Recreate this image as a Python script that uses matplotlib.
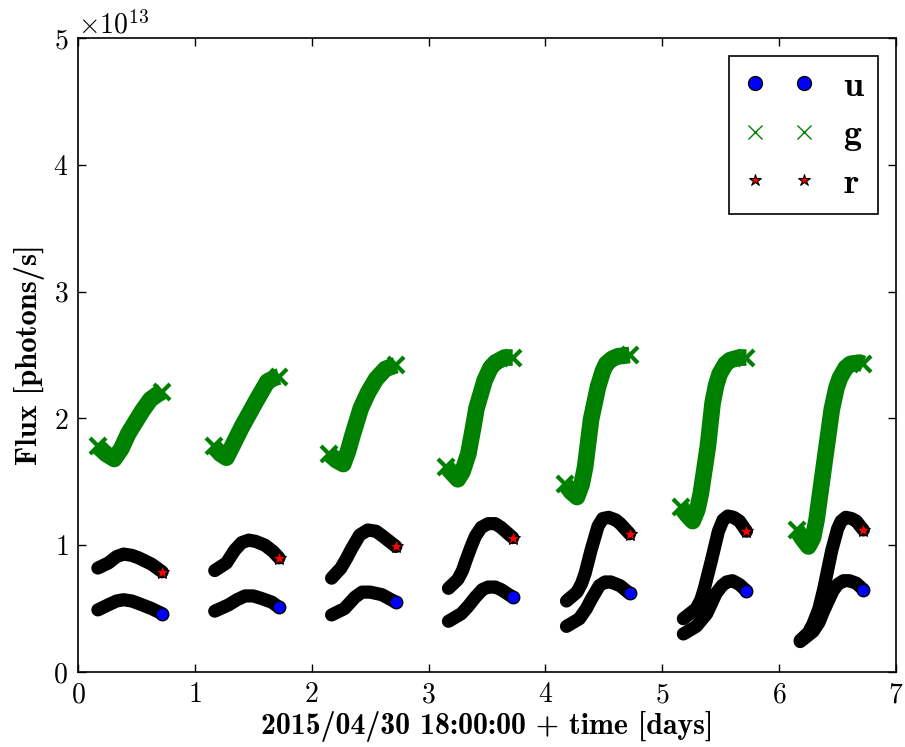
import matplotlib
matplotlib.use('Agg')
import matplotlib.pyplot as plt
import numpy as np

plt.rcParams['font.family'] = 'cmr10'
plt.rcParams['mathtext.fontset'] = 'cm'
plt.rcParams['axes.formatter.use_mathtext'] = True
plt.rcParams['axes.unicode_minus'] = False

# flux in units of 1e13 photons/s, one list per night
u_t = [[0.17, 0.26, 0.33, 0.39, 0.46, 0.52, 0.63, 0.72],
       [1.17, 1.29, 1.36, 1.43, 1.50, 1.57, 1.66, 1.72],
       [2.17, 2.28, 2.33, 2.37, 2.43, 2.50, 2.60, 2.72],
       [3.17, 3.28, 3.34, 3.40, 3.46, 3.51, 3.57, 3.62, 3.72],
       [4.18, 4.29, 4.35, 4.39, 4.46, 4.51, 4.56, 4.64, 4.72],
       [5.18, 5.29, 5.38, 5.42, 5.46, 5.51, 5.55, 5.60, 5.66, 5.72],
       [6.18, 6.29, 6.34, 6.38, 6.46, 6.50, 6.55, 6.60, 6.66, 6.72]]
u_f = [[0.49, 0.53, 0.56, 0.57, 0.56, 0.54, 0.50, 0.46],
       [0.48, 0.53, 0.57, 0.60, 0.60, 0.58, 0.55, 0.51],
       [0.45, 0.50, 0.55, 0.59, 0.63, 0.63, 0.61, 0.55],
       [0.40, 0.46, 0.52, 0.59, 0.65, 0.67, 0.67, 0.65, 0.59],
       [0.36, 0.42, 0.50, 0.57, 0.68, 0.71, 0.71, 0.68, 0.62],
       [0.30, 0.36, 0.46, 0.54, 0.62, 0.68, 0.71, 0.72, 0.69, 0.64],
       [0.24, 0.32, 0.39, 0.48, 0.64, 0.69, 0.72, 0.72, 0.70, 0.65]]

g_t = [[0.17, 0.24, 0.31, 0.37, 0.43, 0.55, 0.62, 0.68, 0.72],
       [1.16, 1.22, 1.27, 1.33, 1.40, 1.52, 1.62, 1.68, 1.72],
       [2.15, 2.21, 2.27, 2.31, 2.35, 2.42, 2.48, 2.55, 2.63, 2.72],
       [3.15, 3.21, 3.25, 3.29, 3.34, 3.38, 3.41, 3.48, 3.53, 3.57, 3.65, 3.72],
       [4.17, 4.22, 4.27, 4.31, 4.34, 4.39, 4.45, 4.49, 4.52, 4.57, 4.62, 4.72],
       [5.16, 5.21, 5.26, 5.30, 5.33, 5.39, 5.43, 5.46, 5.49, 5.54, 5.58, 5.66, 5.72],
       [6.15, 6.20, 6.25, 6.29, 6.32, 6.39, 6.45, 6.49, 6.52, 6.57, 6.61, 6.69, 6.72]]
g_f = [[1.78, 1.72, 1.68, 1.76, 1.88, 2.06, 2.15, 2.19, 2.21],
       [1.78, 1.72, 1.69, 1.80, 1.93, 2.13, 2.29, 2.32, 2.33],
       [1.72, 1.67, 1.64, 1.74, 1.87, 2.08, 2.20, 2.31, 2.39, 2.42],
       [1.62, 1.56, 1.52, 1.58, 1.72, 1.92, 2.08, 2.30, 2.40, 2.44, 2.48, 2.48],
       [1.48, 1.42, 1.38, 1.48, 1.62, 1.99, 2.25, 2.37, 2.43, 2.47, 2.49, 2.50],
       [1.30, 1.24, 1.19, 1.28, 1.41, 1.78, 2.12, 2.26, 2.35, 2.43, 2.46, 2.48, 2.48],
       [1.12, 1.05, 0.99, 1.06, 1.20, 1.67, 2.07, 2.24, 2.32, 2.40, 2.43, 2.44, 2.43]]

r_t = [[0.17, 0.26, 0.33, 0.39, 0.46, 0.52, 0.63, 0.72],
       [1.17, 1.27, 1.34, 1.40, 1.46, 1.52, 1.60, 1.67, 1.72],
       [2.17, 2.25, 2.30, 2.34, 2.41, 2.48, 2.55, 2.61, 2.72],
       [3.17, 3.25, 3.29, 3.32, 3.36, 3.40, 3.45, 3.51, 3.57, 3.62, 3.72],
       [4.18, 4.27, 4.31, 4.34, 4.39, 4.45, 4.49, 4.54, 4.60, 4.64, 4.72],
       [5.18, 5.29, 5.33, 5.36, 5.42, 5.48, 5.52, 5.56, 5.61, 5.66, 5.72],
       [6.18, 6.25, 6.29, 6.34, 6.38, 6.45, 6.50, 6.53, 6.57, 6.62, 6.66, 6.72]]
r_f = [[0.82, 0.86, 0.91, 0.93, 0.92, 0.90, 0.85, 0.79],
       [0.80, 0.86, 0.96, 1.02, 1.04, 1.03, 1.00, 0.95, 0.90],
       [0.74, 0.82, 0.90, 0.97, 1.08, 1.12, 1.11, 1.07, 0.99],
       [0.66, 0.73, 0.80, 0.88, 0.98, 1.07, 1.14, 1.17, 1.17, 1.14, 1.06],
       [0.56, 0.63, 0.70, 0.78, 0.96, 1.15, 1.21, 1.22, 1.20, 1.17, 1.09],
       [0.42, 0.50, 0.57, 0.66, 0.88, 1.11, 1.20, 1.23, 1.22, 1.19, 1.11],
       [0.25, 0.31, 0.38, 0.50, 0.65, 0.96, 1.13, 1.19, 1.22, 1.21, 1.19, 1.12]]

bands = ['u', 'g', 'r']

fig = plt.figure(figsize=(9.05, 7.47), dpi=100)
ax = fig.add_axes([0.0862, 0.1004, 0.9039, 0.8487])

for t, f in zip(u_t, u_f):
    f = np.array(f) * 1e13
    ax.plot(t, f, '-', color='k', lw=9.5, solid_capstyle='round', solid_joinstyle='round')
    ax.plot(t[-1], f[-1], 'o', mfc='b', mec='k', ms=9, mew=1)

for t, f in zip(g_t, g_f):
    f = np.array(f) * 1e13
    ax.plot(t, f, '-', color='g', lw=12, solid_capstyle='butt', solid_joinstyle='round')
    ax.plot([t[0], t[-1]], [f[0], f[-1]], 'x', color='g', ms=12, mew=3)

for t, f in zip(r_t, r_f):
    f = np.array(f) * 1e13
    ax.plot(t, f, '-', color='k', lw=9.5, solid_capstyle='round', solid_joinstyle='round')
    ax.plot(t[-1], f[-1], '*', mfc='r', mec='k', ms=10, mew=0.8)

# legend handles
h_u, = ax.plot([], [], 'o', mfc='b', mec='k', ms=10, mew=1, label=bands[0])
h_g, = ax.plot([], [], 'x', color='g', ms=10, mew=1, label=bands[1])
h_r, = ax.plot([], [], '*', mfc='r', mec='k', ms=9, mew=0.8, label=bands[2])
leg = ax.legend(handles=[h_u, h_g, h_r], loc='upper right', numpoints=2,
                prop={'family': 'cmb10', 'size': 26}, fancybox=False,
                framealpha=1, edgecolor='k', handlelength=1.96,
                handletextpad=0.8, labelspacing=0.45, borderaxespad=0.5,
                borderpad=0.4)
leg.get_frame().set_linewidth(1.2)

ax.set_xlim(0, 7)
ax.set_ylim(0, 5e13)
ax.tick_params(direction='in', top=True, right=True, length=6, width=1,
               labelsize=20, pad=7)
for s in ax.spines.values():
    s.set_linewidth(1.2)
ax.yaxis.get_offset_text().set_fontsize(20)

ax.set_xlabel('2015/04/30 18:00:00 + time [days]', family='cmb10', fontsize=21.5, labelpad=2)
ax.set_ylabel('Flux [photons/s]', family='cmb10', fontsize=22, labelpad=6)

fig.savefig('out.png', dpi=100)
